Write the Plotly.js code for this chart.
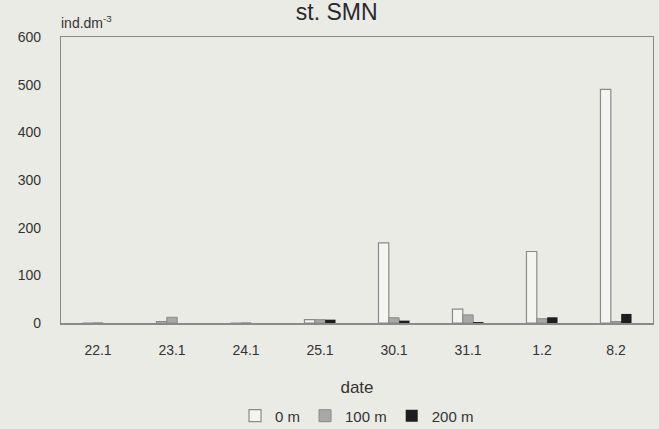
<!DOCTYPE html>
<html>
<head>
<meta charset="utf-8">
<script src="https://cdn.plot.ly/plotly-3.0.1.min.js"></script>
<style>
html,body{margin:0;padding:0;background:#ebebe6;}
#chart{width:659px;height:429px;}
</style>
</head>
<body>
<div id="chart"></div>
<script>
const dates = ["22.1","23.1","24.1","25.1","30.1","31.1","1.2","8.2"];
const depth0 = [0, 3, 0, 7, 168, 29, 150, 490];
const depth100 = [0, 12, 0, 7, 11, 17, 9, 3];
const depth200 = [0, 0, 0, 7, 5, 2, 12, 19];
const seriesNames = ["0 m", "100 m", "200 m"];

const traces = [
  {type:"bar", name:seriesNames[0], x:dates, y:depth0,
   marker:{color:"#f4f4f0", line:{color:"#8a8a8a", width:1.2}}},
  {type:"bar", name:seriesNames[1], x:dates, y:depth100,
   marker:{color:"#a8a8a6", line:{color:"#8a8a8a", width:1}}},
  {type:"bar", name:seriesNames[2], x:dates, y:depth200,
   marker:{color:"#1e1e1e", line:{color:"#1e1e1e", width:0}}}
];

const layout = {
  width:659, height:429,
  paper_bgcolor:"#ebebe6", plot_bgcolor:"#ebebe6",
  font:{family:"Liberation Sans, Arial, sans-serif", color:"#333333", size:14},
  margin:{l:61, r:6, t:37, b:106, autoexpand:false},
  barmode:"group", bargap:0.58, bargroupgap:0,
  title:{text:"st. SMN", xref:"container", x:0.511, xanchor:"center",
         yref:"container", y:0.972, yanchor:"middle",
         font:{size:23, color:"#2a2a2a"}},
  xaxis:{type:"category", showgrid:false, zeroline:false, ticks:"",
         showline:true, linecolor:"#8a8a8a", linewidth:1.5, mirror:true,
         layer:"above traces", automargin:false,
         tickfont:{size:14, color:"#333"}, ticklabelstandoff:14,
         title:{text:"date", font:{size:17, color:"#333"}, standoff:24}},
  yaxis:{range:[0,600], dtick:100, showgrid:false, zeroline:false, ticks:"",
         showline:true, linecolor:"#8a8a8a", linewidth:1.2, mirror:true,
         automargin:false,
         tickfont:{size:14, color:"#333"}, ticklabelstandoff:16},
  showlegend:true,
  legend:{orientation:"h", x:0.5, xanchor:"center", y:-0.325, yanchor:"middle",
          font:{size:15, color:"#333"}, bgcolor:"rgba(0,0,0,0)",
          itemwidth:30, tracegroupgap:0, traceorder:"normal"},
  annotations:[
    {text:"ind.dm<sup>-3</sup>", xref:"paper", yref:"paper", x:0, y:1.0,
     xanchor:"left", yanchor:"bottom", xshift:-2, yshift:4, showarrow:false,
     font:{size:14, color:"#333"}}
  ]
};

Plotly.newPlot("chart", traces, layout, {displayModeBar:false, staticPlot:true});
</script>
</body>
</html>
